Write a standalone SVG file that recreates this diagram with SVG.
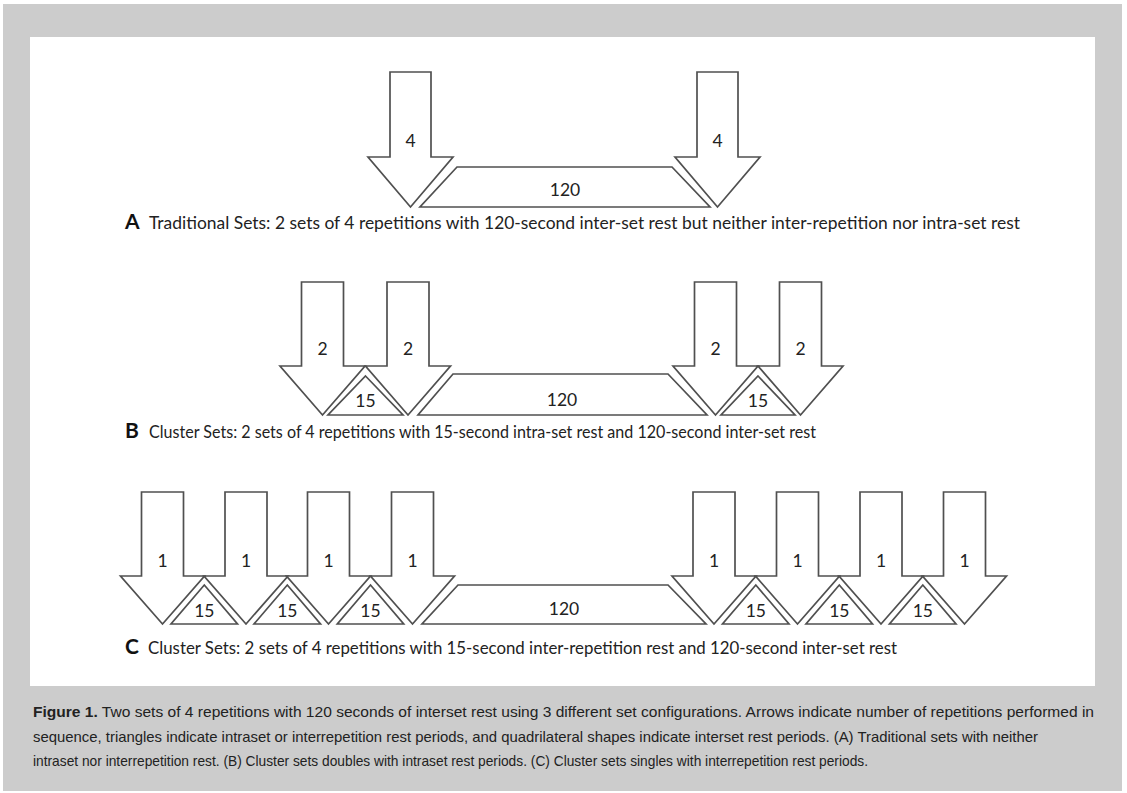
<svg xmlns="http://www.w3.org/2000/svg" width="1127" height="793" viewBox="0 0 1127 793">
<style>
.shape{fill:#fff;stroke:#505050;stroke-width:1.7;stroke-linejoin:miter}
.num{font-family:Lato,"Open Sans",sans-serif;font-size:17.5px;fill:#222;text-anchor:middle}
.lbl{font-family:Lato,"Open Sans",sans-serif;font-size:21px;font-weight:bold;fill:#111}
.sub{font-family:Lato,"Open Sans",sans-serif;font-size:17.5px;fill:#222}
.cap{font-family:"Liberation Sans",Arial,sans-serif;font-size:15px;fill:#222}
</style>
<rect x="0" y="0" width="1127" height="793" fill="#fff"/>
<rect x="3" y="4" width="1119" height="787" fill="#cccccc"/>
<rect x="30" y="37" width="1065" height="649" fill="#fff"/>

<g id="panelA">
  <g id="A-arrow1"><path class="shape" d="M390,72 H431 V157 H453 L410.5,207 L368,157 H390 Z"/><text class="num" x="410.5" y="147">4</text></g>
  <g id="A-arrow2"><path class="shape" d="M697,72 H738 V157 H760 L717.5,207 L675,157 H697 Z"/><text class="num" x="717.5" y="147">4</text></g>
  <g id="A-rest"><path class="shape" d="M457,167 H672 L710,207 H420 Z"/><text class="num" x="565" y="196">120</text></g>
  <text class="lbl" x="125" y="229">A</text>
  <text class="sub" x="149" y="229" textLength="871" lengthAdjust="spacingAndGlyphs">Traditional Sets: 2 sets of 4 repetitions with 120-second inter-set rest but neither inter-repetition nor intra-set rest</text>
</g>

<g id="panelB">
  <g id="B-arrow1"><path class="shape" d="M301.5,282 H343.5 V366 H365 L322.5,415 L280,366 H301.5 Z"/><text class="num" x="322.5" y="355">2</text></g>
  <g id="B-arrow2"><path class="shape" d="M387,282 H429 V366 H450.5 L408,415 L365.5,366 H387 Z"/><text class="num" x="408" y="355">2</text></g>
  <g id="B-arrow3"><path class="shape" d="M694.5,282 H736.5 V366 H758 L715.5,415 L673,366 H694.5 Z"/><text class="num" x="715.5" y="355">2</text></g>
  <g id="B-arrow4"><path class="shape" d="M779.5,282 H821.5 V366 H843 L800.5,415 L758,366 H779.5 Z"/><text class="num" x="800.5" y="355">2</text></g>
  <g id="B-tri1"><path class="shape" d="M365.5,376 L403,415 H328 Z"/><text class="num" x="365.5" y="407">15</text></g>
  <g id="B-tri2"><path class="shape" d="M758,376 L795,415 H721 Z"/><text class="num" x="758" y="407">15</text></g>
  <g id="B-rest"><path class="shape" d="M453,374 H668 L707,415 H418 Z"/><text class="num" x="562" y="406">120</text></g>
  <text class="lbl" x="125" y="438">B</text>
  <text class="sub" x="149" y="438" textLength="667" lengthAdjust="spacingAndGlyphs">Cluster Sets: 2 sets of 4 repetitions with 15-second intra-set rest and 120-second inter-set rest</text>
</g>

<g id="panelC">
  <g id="C-arrow1"><path class="shape" d="M141.5,492 H183.5 V576 H204.5 L162.5,624 L120.5,576 H141.5 Z"/><text class="num" x="162.5" y="567">1</text></g>
  <g id="C-arrow2"><path class="shape" d="M225,492 H267 V576 H288 L246,624 L204,576 H225 Z"/><text class="num" x="246" y="567">1</text></g>
  <g id="C-arrow3"><path class="shape" d="M307.5,492 H349.5 V576 H370.5 L328.5,624 L286.5,576 H307.5 Z"/><text class="num" x="328.5" y="567">1</text></g>
  <g id="C-arrow4"><path class="shape" d="M391.5,492 H433.5 V576 H454.5 L412.5,624 L370.5,576 H391.5 Z"/><text class="num" x="412.5" y="567">1</text></g>
  <g id="C-arrow5"><path class="shape" d="M693,492 H735 V576 H756 L714,624 L672,576 H693 Z"/><text class="num" x="714" y="567">1</text></g>
  <g id="C-arrow6"><path class="shape" d="M776.5,492 H818.5 V576 H839.5 L797.5,624 L755.5,576 H776.5 Z"/><text class="num" x="797.5" y="567">1</text></g>
  <g id="C-arrow7"><path class="shape" d="M860,492 H902 V576 H923 L881,624 L839,576 H860 Z"/><text class="num" x="881" y="567">1</text></g>
  <g id="C-arrow8"><path class="shape" d="M943.5,492 H985.5 V576 H1006.5 L964.5,624 L922.5,576 H943.5 Z"/><text class="num" x="964.5" y="567">1</text></g>
  <g id="C-tri1"><path class="shape" d="M204.3,585 L237.5,624 H171 Z"/><text class="num" x="204.3" y="617">15</text></g>
  <g id="C-tri2"><path class="shape" d="M287.3,585 L320.5,624 H254 Z"/><text class="num" x="287.3" y="617">15</text></g>
  <g id="C-tri3"><path class="shape" d="M370.5,585 L403.7,624 H337.3 Z"/><text class="num" x="370.5" y="617">15</text></g>
  <g id="C-tri4"><path class="shape" d="M755.8,585 L789,624 H722.5 Z"/><text class="num" x="755.8" y="617">15</text></g>
  <g id="C-tri5"><path class="shape" d="M839.3,585 L872.5,624 H806 Z"/><text class="num" x="839.3" y="617">15</text></g>
  <g id="C-tri6"><path class="shape" d="M922.8,585 L956,624 H889.5 Z"/><text class="num" x="922.8" y="617">15</text></g>
  <g id="C-rest"><path class="shape" d="M458,585 H668 L706,624 H422 Z"/><text class="num" x="564" y="615">120</text></g>
  <text class="lbl" x="125" y="654">C</text>
  <text class="sub" x="148" y="654" textLength="749" lengthAdjust="spacingAndGlyphs">Cluster Sets: 2 sets of 4 repetitions with 15-second inter-repetition rest and 120-second inter-set rest</text>
</g>

<g id="caption">
  <text class="cap" x="33" y="717" textLength="1061" lengthAdjust="spacingAndGlyphs"><tspan font-weight="bold">Figure 1.</tspan> Two sets of 4 repetitions with 120 seconds of interset rest using 3 different set configurations. Arrows indicate number of repetitions performed in</text>
  <text class="cap" x="33" y="742" textLength="1005" lengthAdjust="spacingAndGlyphs">sequence, triangles indicate intraset or interrepetition rest periods, and quadrilateral shapes indicate interset rest periods. (A) Traditional sets with neither</text>
  <text class="cap" x="33" y="766" textLength="835" lengthAdjust="spacingAndGlyphs">intraset nor interrepetition rest. (B) Cluster sets doubles with intraset rest periods. (C) Cluster sets singles with interrepetition rest periods.</text>
</g>
</svg>
